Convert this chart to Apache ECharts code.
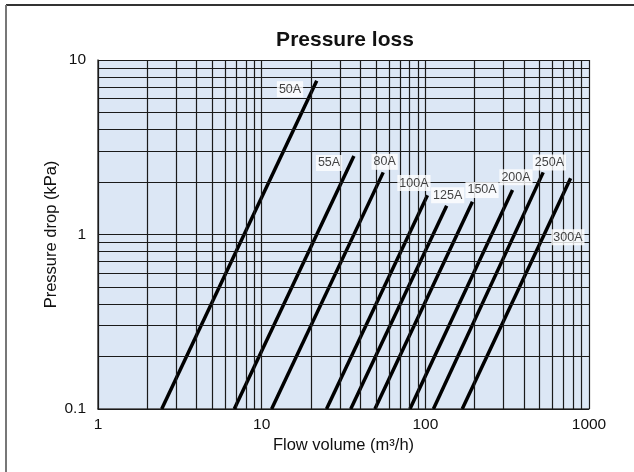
<!DOCTYPE html>
<html>
<head>
<meta charset="utf-8">
<script src="https://cdn.jsdelivr.net/npm/echarts@6/dist/echarts.min.js"></script>
<style>
html,body{margin:0;padding:0;background:#fff;}
#chart{width:634px;height:472px;}
</style>
</head>
<body>
<div id="chart"></div>
<script>
// pipe sizes and the two ends of each pressure-loss line
var sizes = ['50A','55A','80A','100A','125A','150A','200A','250A','300A'];
var flowLow = [2.45, 6.8, 11.5, 24.9, 35, 49.2, 80.5, 112, 168];
var dropLow = [0.1, 0.1, 0.1, 0.1, 0.1, 0.1, 0.1, 0.1, 0.1];
var flowHigh = [21.7, 36.6, 55.3, 103, 135, 194, 341, 525, 772];
var dropHigh = [7.6, 2.82, 2.27, 1.68, 1.46, 1.54, 1.80, 2.27, 2.10];
// where the size labels sit
var labelFlow = [14.9, 25.8, 56.4, 85.2, 137, 222, 358, 573, 743];
var labelDrop = [6.8, 2.57, 2.61, 1.97, 1.68, 1.80, 2.13, 2.59, 0.964];
// grid lines
var xGrid = [1,2,3,4,5,6,7,8,9,10,20,30,40,50,60,70,80,90,100,200,300,400,500,600,700,800,900,1000];
var yGrid = [0.1,0.2,0.3,0.4,0.5,0.6,0.7,0.8,0.9,1,2,3,4,5,6,7,8,9,10];

var chart = echarts.init(document.getElementById('chart'));
var font = 'Liberation Sans, Arial, sans-serif';

var series = [];
// grid lines drawn as mark lines on the log axes
series.push({
    type: 'line',
    data: [],
    silent: true,
    z: 1,
    markLine: {
        silent: true,
        symbol: ['none','none'],
        label: {show: false},
        animation: false,
        lineStyle: {color: '#1a1a1a', width: 1.2, type: 'solid'},
        emphasis: {disabled: true},
        data: xGrid.map(function (v) { return {xAxis: v}; })
            .concat(yGrid.map(function (v) { return {yAxis: v}; }))
    }
});
for (var i = 0; i < sizes.length; i++) {
    series.push({
        name: sizes[i],
        type: 'line',
        data: [[flowLow[i], dropLow[i]], [flowHigh[i], dropHigh[i]]],
        symbol: 'none',
        z: 3,
        lineStyle: {color: '#000', width: 3.5}
    });
}
// size labels with white boxes over the grid
series.push({
    type: 'scatter',
    symbolSize: 0,
    z: 5,
    silent: true,
    data: sizes.map(function (s, i) { return {value: [labelFlow[i], labelDrop[i]], name: s}; }),
    label: {
        show: true,
        position: 'inside',
        formatter: '{b}',
        color: '#111',
        textBorderWidth: 0,
        textBorderColor: 'transparent',
        fontFamily: font,
        fontSize: 12.5,
        backgroundColor: '#fff',
        padding: [2, 2, 1, 2]
    }
});

chart.setOption({
    animation: false,
    title: {
        text: 'Pressure loss',
        left: 340,
        top: 25,
        textAlign: 'center',
        textStyle: {fontFamily: font, fontSize: 21, fontWeight: 'bold', color: '#111'}
    },
    graphic: [
        {type: 'line', shape: {x1: 6, y1: 5, x2: 634, y2: 5}, style: {stroke: '#333', lineWidth: 2}},
        {type: 'line', shape: {x1: 6, y1: 5, x2: 6, y2: 472}, style: {stroke: '#777', lineWidth: 2}}
    ],
    grid: {
        left: 98, right: 45, top: 60, bottom: 63,
        show: true,
        backgroundColor: '#dce7f5',
        borderWidth: 0
    },
    xAxis: {
        type: 'log',
        logBase: 10,
        min: 1,
        max: 1000,
        name: 'Flow volume (m³/h)',
        nameLocation: 'middle',
        nameGap: 28,
        nameMoveOverlap: false,
        nameTextStyle: {fontFamily: font, fontSize: 16.5, color: '#111'},
        axisLine: {show: true, lineStyle: {color: '#444', width: 1.5}},
        axisTick: {show: false},
        splitLine: {show: false},
        axisLabel: {
            fontFamily: font, fontSize: 15.5, color: '#111', margin: 8,
            formatter: function (v) { return String(v); }
        }
    },
    yAxis: {
        type: 'log',
        logBase: 10,
        min: 0.1,
        max: 10,
        name: 'Pressure drop (kPa)',
        nameLocation: 'middle',
        nameGap: 38,
        nameMoveOverlap: false,
        nameTextStyle: {fontFamily: font, fontSize: 16.5, color: '#111'},
        axisLine: {show: true, lineStyle: {color: '#444', width: 1.5}},
        axisTick: {show: false},
        splitLine: {show: false},
        axisLabel: {
            fontFamily: font, fontSize: 15.5, color: '#111', margin: 12,
            formatter: function (v) { return String(v); }
        }
    },
    series: series
});

window.addEventListener('resize', function () {
    chart.resize();
});
</script>
</body>
</html>
